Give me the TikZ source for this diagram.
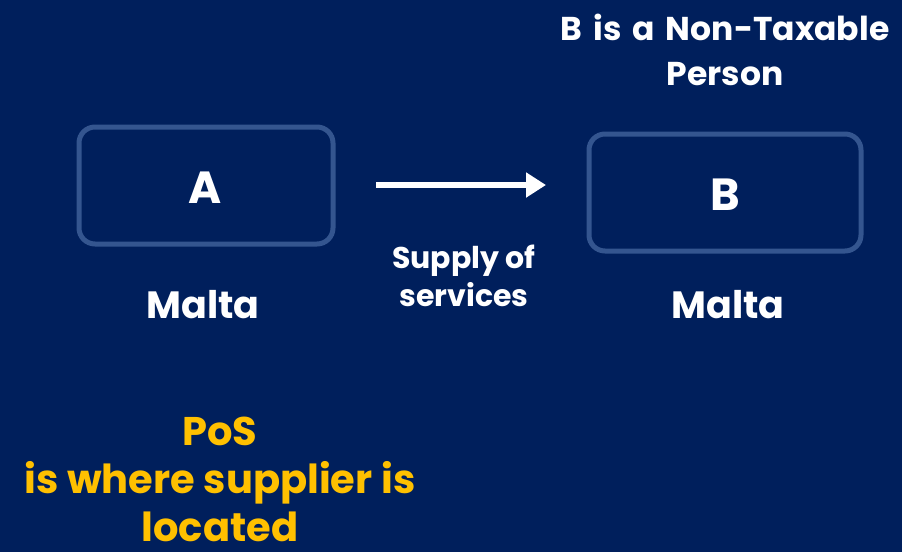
\documentclass[tikz,border=0pt]{standalone}
\usepackage{fontspec}
\setmainfont{Poppins}
\usetikzlibrary{arrows.meta}
\definecolor{bgblue}{HTML}{001F5C}
\definecolor{boxline}{HTML}{34558F}
\definecolor{posyellow}{HTML}{FFC000}
\tikzset{
  party/.style={draw=boxline, line width=5pt, rounded corners=16pt, fill=bgblue},
  lbl/.style={text=white, font=\bfseries\fontsize{#1}{#1}\selectfont, align=center, inner sep=0pt},
}
\begin{document}
\begin{tikzpicture}[x=1pt,y=-1pt]
\fill[bgblue] (0,0) rectangle (902,552);
\useasboundingbox (0,0) rectangle (902,552);
\draw[party] (79,127) rectangle (333,244);
\draw[party] (589,134) rectangle (861,251);
\node[lbl=45] (a) at (205,188) {A};
\node[lbl=45] (b) at (725,195) {B};
\node[lbl=38] (ma) at (203,305) {Malta};
\node[lbl=38] (mb) at (728,305) {Malta};
\node[lbl=33, text width=380pt, execute at begin node={\baselineskip=45pt}] (np) at (725,50) {B is a Non-Taxable\\Person};
\coordinate (s) at (376,185);
\coordinate (e) at (546,185);
\draw[white, line width=6pt, -{Triangle[length=20pt,width=24pt]}] (s) -- (e);
\node[lbl=30, execute at begin node={\baselineskip=38pt}] (sup) at (464,276) {Supply of\\services};
\node[lbl=40, text=posyellow, execute at begin node={\baselineskip=48pt}] (pos) at (220,479) {PoS\\is where supplier is\\located};
\end{tikzpicture}
\end{document}
